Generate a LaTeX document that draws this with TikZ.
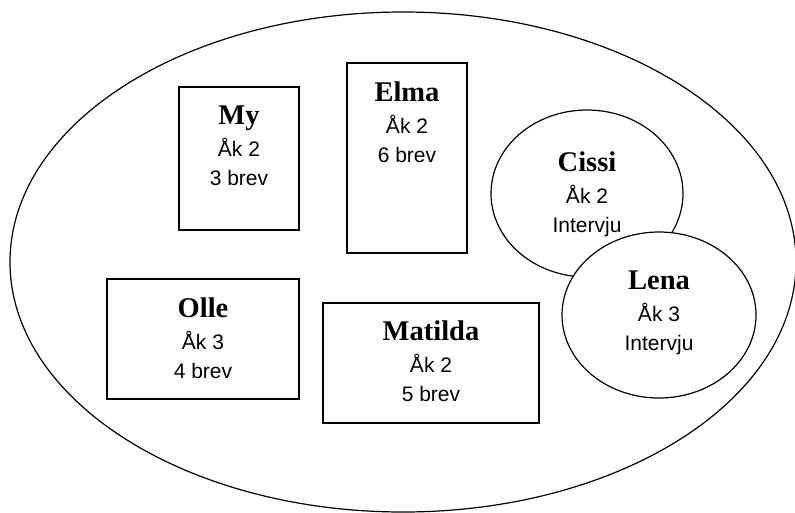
\documentclass[tikz,border=0pt]{standalone}
\usepackage{fontspec}
\setmainfont{Liberation Serif}
\newfontfamily\arialfont{Liberation Sans}
\usetikzlibrary{positioning,shapes.geometric}

\newcommand\pname[1]{{\fontsize{28.5}{32}\selectfont\bfseries\rmfamily #1}}

\tikzset{
  box/.style={draw, rectangle, line width=1.2pt, inner sep=0pt},
  ring/.style={draw, ellipse, line width=1.2pt, inner sep=0pt, fill=white},
  info/.style={anchor=north, inner sep=0pt, align=center,
    font=\fontsize{21}{29}\arialfont}
}

\begin{document}
\begin{tikzpicture}[x=1pt, y=-1pt]
\useasboundingbox (0,0) rectangle (795,512);

% the whole group
\node [ring, minimum width=786pt, minimum height=500pt] (group) at (403,262) {};

% letters
\node [box, minimum width=120pt, minimum height=143pt] (my) at (239,158.5) {};
\node [box, minimum width=120pt, minimum height=190pt] (elma) at (407,158) {};
\node [box, minimum width=192pt, minimum height=120pt] (olle) at (203,339) {};
\node [box, minimum width=216pt, minimum height=120pt] (matilda) at (431,363) {};

% interviews
\node [ring, minimum width=192pt, minimum height=167pt] (cissi) at (587,193.5) {};
\node [ring, minimum width=194pt, minimum height=166pt] (lena) at (659,315) {};

\node [info] (my text) at ([yshift=-19pt]my.north) {\pname{My}\\[3pt] Åk 2\\ 3 brev};
\node [info] (elma text) at ([yshift=-19pt]elma.north) {\pname{Elma}\\[3pt] Åk 2\\ 6 brev};
\node [info] (olle text) at ([yshift=-19pt]olle.north) {\pname{Olle}\\[3pt] Åk 3\\ 4 brev};
\node [info] (matilda text) at ([yshift=-18pt]matilda.north) {\pname{Matilda}\\[3pt] Åk 2\\ 5 brev};
\node [info] (cissi text) at ([yshift=42pt]cissi.center) {\pname{Cissi}\\[3pt] Åk 2\\ Intervju};
\node [info] (lena text) at ([yshift=44pt]lena.center) {\pname{Lena}\\[3pt] Åk 3\\ Intervju};
\end{tikzpicture}
\end{document}
